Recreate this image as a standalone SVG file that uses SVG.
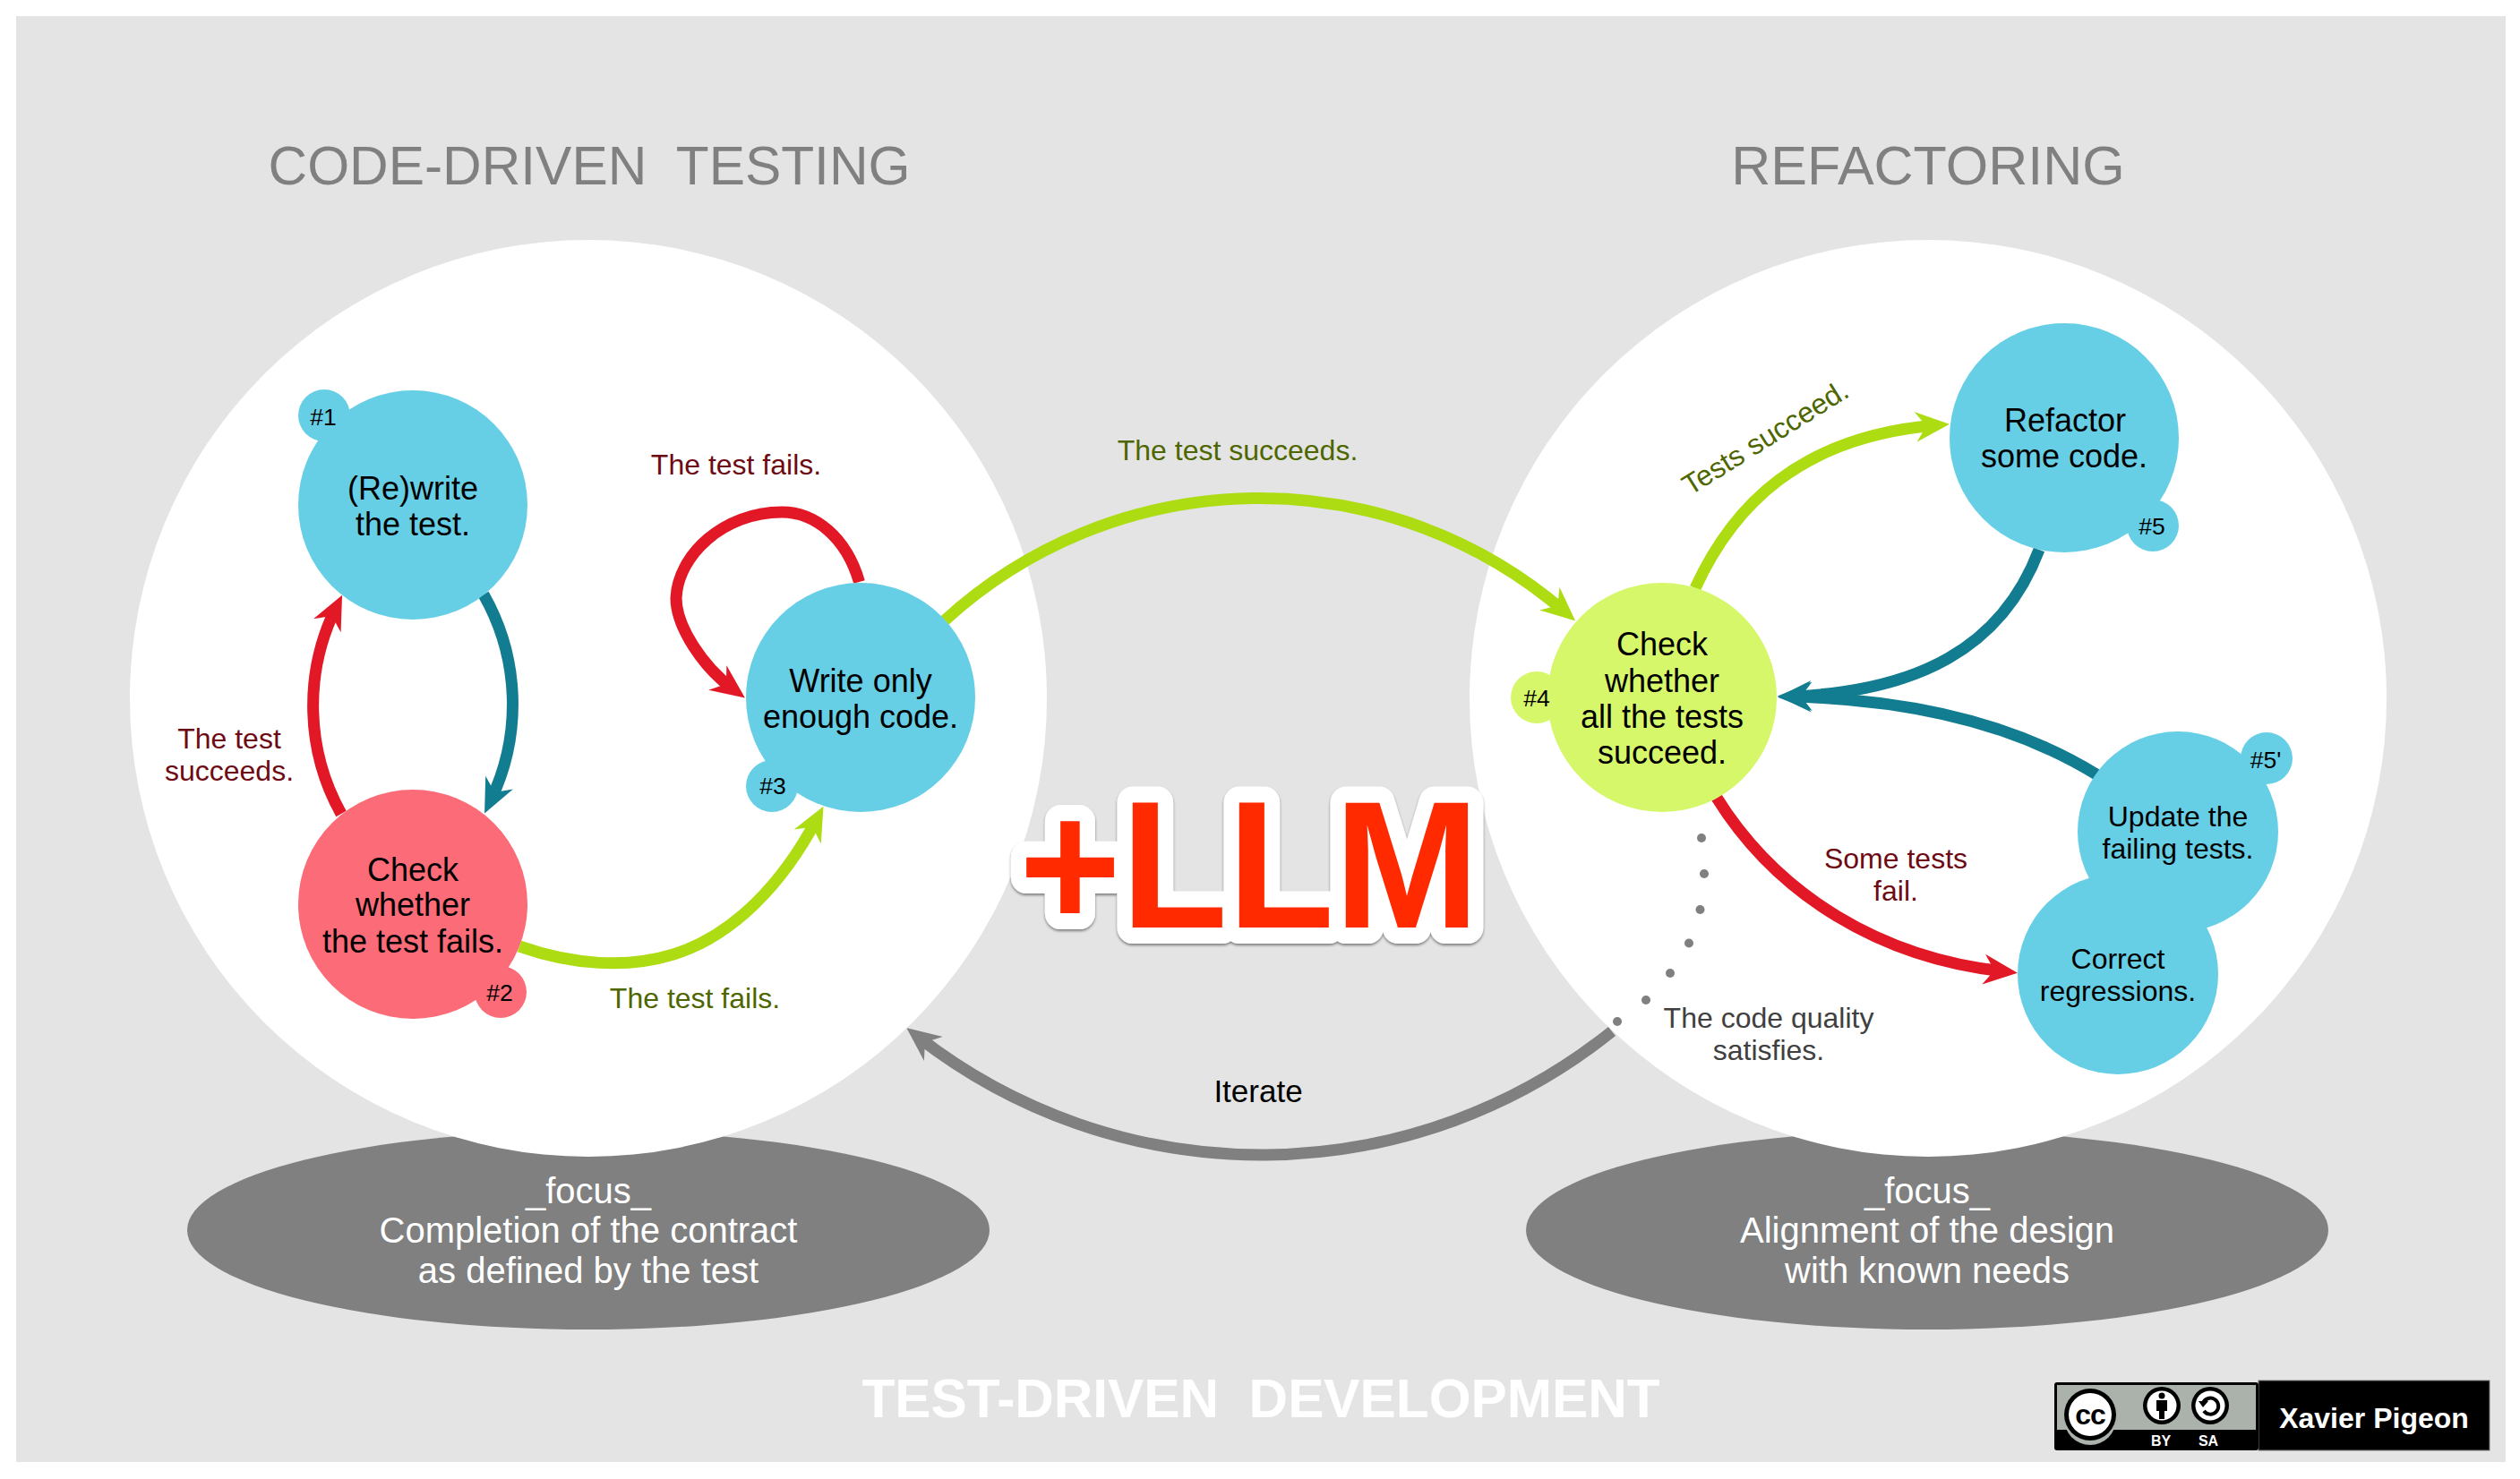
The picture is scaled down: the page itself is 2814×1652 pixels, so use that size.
<svg xmlns="http://www.w3.org/2000/svg" width="2814" height="1652" viewBox="0 0 2814 1652">
<style>
text{font-family:"Liberation Sans",Arial,sans-serif;text-anchor:middle;white-space:pre}
.n{font-size:36px;fill:#000}
.s{font-size:32px;fill:#000}
.b{font-size:26.5px;fill:#000}
.lr{font-size:32px;fill:#6e0a14}
.lg{font-size:32px;fill:#4e6600}
.lk{font-size:32px;fill:#404040}
.t{font-size:60.4px;fill:#808080}
.f{font-size:40px;fill:#fff}
.blue{fill:#66cfe6}.pink{fill:#fb6b78}.lime{fill:#d7f76b}
.c{fill:none;stroke-width:13}
.cr{stroke:#e21826}.cg{stroke:#addc12}.ct{stroke:#127c90}.cy{stroke:#808080}
</style>
<defs>
<marker id="ar" markerUnits="userSpaceOnUse" markerWidth="42" markerHeight="40" viewBox="0 -20 42 40" refX="22" refY="0" orient="auto"><path d="M38,0L0,-17L12,0L0,17Z" fill="#e21826"/></marker>
<marker id="ag" markerUnits="userSpaceOnUse" markerWidth="42" markerHeight="40" viewBox="0 -20 42 40" refX="22" refY="0" orient="auto"><path d="M38,0L0,-17L12,0L0,17Z" fill="#addc12"/></marker>
<marker id="at" markerUnits="userSpaceOnUse" markerWidth="42" markerHeight="40" viewBox="0 -20 42 40" refX="22" refY="0" orient="auto"><path d="M38,0L0,-17L12,0L0,17Z" fill="#127c90"/></marker>
<marker id="ay" markerUnits="userSpaceOnUse" markerWidth="42" markerHeight="40" viewBox="0 -20 42 40" refX="22" refY="0" orient="auto"><path d="M38,0L0,-17L12,0L0,17Z" fill="#808080"/></marker>
<filter id="sh" x="-5%" y="-5%" width="110%" height="115%"><feDropShadow dx="0" dy="2" stdDeviation="1.5" flood-color="#000" flood-opacity=".45"/></filter>
</defs>
<rect x="0" y="0" width="2814" height="1652" fill="#fff"/>
<rect x="18" y="18" width="2780" height="1615" fill="#e4e4e4"/>
<g id="focus-left"><ellipse cx="657" cy="1374" rx="448" ry="111" fill="#808080"/></g>
<g id="focus-right"><ellipse cx="2152" cy="1374" rx="448" ry="111" fill="#808080"/></g>
<g id="circle-left"><circle cx="657" cy="780" r="512" fill="#fff"/></g>
<g id="circle-right"><circle cx="2153" cy="780" r="512" fill="#fff"/></g>
<text class="t" x="658" y="206">CODE-DRIVEN  TESTING</text>
<text class="t" x="2153" y="206" style="font-size:61px">REFACTORING</text>
<text class="f" x="657" y="1344">_focus_</text>
<text class="f" x="657" y="1388">Completion of the contract</text>
<text class="f" x="657" y="1433">as defined by the test</text>
<text class="f" x="2152" y="1344">_focus_</text>
<text class="f" x="2152" y="1388">Alignment of the design</text>
<text class="f" x="2152" y="1433">with known needs</text>
<text x="1408" y="1583" style="font-size:60.3px;font-weight:bold;fill:#fff">TEST-DRIVEN  DEVELOPMENT</text>
<g id="connectors">
<path class="c ct" marker-end="url(#at)" d="M540,664A248,248 0 0 1 548,894"/>
<path class="c cr" marker-end="url(#ar)" d="M381,909A248,248 0 0 1 375,679"/>
<path class="c cr" marker-end="url(#ar)" d="M959.5,650C945,600 910,572 873,572C808,572 757,620 755,668C755,700 785,745 819,770"/>
<path class="c cg" marker-end="url(#ag)" d="M580,1057C640,1078 700,1082 752,1066C820,1045 875,985 912,915"/>
<path class="c cg" marker-end="url(#ag)" d="M1055,693A521,521 0 0 1 1747,683"/>
<path class="c cg" marker-end="url(#ag)" d="M1893,657C1935,565 2010,488 2161,475"/>
<path class="c ct" marker-end="url(#at)" d="M2277,614C2235,725 2140,772 2001,778"/>
<path class="c ct" marker-end="url(#at)" d="M2341,865C2260,815 2150,782 2001,778"/>
<path class="c cr" marker-end="url(#ar)" d="M1917,891C1985,1000 2100,1070 2237,1085"/>
<path class="c cy" marker-end="url(#ay)" d="M1800,1152A624,624 0 0 1 1025,1158"/>
<g fill="#808080"><circle cx="1900" cy="936" r="5"/><circle cx="1903" cy="976" r="5"/><circle cx="1898.5" cy="1016" r="5"/><circle cx="1886" cy="1053.5" r="5"/><circle cx="1865" cy="1087" r="5"/><circle cx="1838" cy="1117" r="5"/><circle cx="1806" cy="1141" r="5"/></g>
</g>
<g id="node1"><circle class="blue" cx="461" cy="564" r="128"/><circle class="blue" cx="362" cy="464" r="29"/>
<text class="b" x="361" y="475">#1</text><text class="n" x="461" y="558">(Re)write</text><text class="n" x="461" y="598">the test.</text></g>
<g id="node2"><circle class="pink" cx="461" cy="1010" r="128"/><circle class="pink" cx="559" cy="1108" r="29"/>
<text class="b" x="558" y="1118">#2</text><text class="n" x="461" y="984">Check</text><text class="n" x="461" y="1023">whether</text><text class="n" x="461" y="1064">the test fails.</text></g>
<g id="node3"><circle class="blue" cx="961" cy="779" r="128"/><circle class="blue" cx="862" cy="878" r="29"/>
<text class="b" x="863" y="887">#3</text><text class="n" x="961" y="773">Write only</text><text class="n" x="961" y="813">enough code.</text></g>
<g id="node4"><circle class="lime" cx="1856" cy="779" r="128"/><circle class="lime" cx="1716" cy="779" r="29"/>
<text class="b" x="1716" y="789">#4</text><text class="n" x="1856" y="732">Check</text><text class="n" x="1856" y="773">whether</text><text class="n" x="1856" y="813">all the tests</text><text class="n" x="1856" y="853">succeed.</text></g>
<g id="node5"><circle class="blue" cx="2305" cy="489" r="128"/><circle class="blue" cx="2404" cy="587" r="29"/>
<text class="b" x="2403" y="597">#5</text><text class="n" x="2306" y="482">Refactor</text><text class="n" x="2305" y="522">some code.</text></g>
<g id="node5b"><circle class="blue" cx="2432" cy="929" r="112"/><circle class="blue" cx="2531" cy="847" r="29"/>
<text class="b" x="2530" y="858">#5'</text><text class="s" x="2432" y="923">Update the</text><text class="s" x="2432" y="959">failing tests.</text></g>
<g id="node6"><circle class="blue" cx="2365" cy="1088" r="112"/>
<text class="s" x="2365" y="1082">Correct</text><text class="s" x="2365" y="1118">regressions.</text></g>
<g id="labels">
<text class="lr" x="822" y="530">The test fails.</text>
<text class="lr" x="256" y="836">The test</text><text class="lr" x="256" y="872">succeeds.</text>
<text class="lg" x="776" y="1126">The test fails.</text>
<text class="lg" x="1382" y="514">The test succeeds.</text>
<text class="lg" x="0" y="0" transform="translate(1977,498) rotate(-32)">Tests succeed.</text>
<text class="lr" x="2117" y="970">Some tests</text><text class="lr" x="2117" y="1006">fail.</text>
<text class="lk" x="1975" y="1148">The code quality</text><text class="lk" x="1975" y="1184">satisfies.</text>
<text x="1405" y="1231" style="font-size:35px;fill:#000">Iterate</text>
</g>
<g id="llm" transform="translate(1138,1036) scale(.96,1)">
<text x="0" y="0" style="font-size:203px;font-weight:bold;text-anchor:start;fill:#fff;stroke:#fff;stroke-width:36px;stroke-linejoin:round" filter="url(#sh)">+LLM</text>
<text x="0" y="0" style="font-size:203px;font-weight:bold;text-anchor:start;fill:#ff2a00">+LLM</text>
</g>
<g id="license" transform="translate(0,2)">
<rect x="2522" y="1540" width="258" height="78" fill="#000" stroke="#777" stroke-width="1"/>
<text x="2651" y="1593" style="font-size:32px;font-weight:bold;fill:#fff">Xavier Pigeon</text>
<rect x="2294" y="1542" width="228" height="76" rx="3" fill="#000"/>
<path d="M2297,1545H2519V1595H2297Z" fill="#aab2ab"/>
<circle cx="2334" cy="1583" r="29" fill="#aab2ab"/>
<circle cx="2334" cy="1578" r="29" fill="#000"/><circle cx="2334" cy="1578" r="24" fill="#fff"/>
<text x="2334" y="1589" style="font-size:32px;font-weight:bold;fill:#000;letter-spacing:-1px">cc</text>
<circle cx="2414" cy="1568" r="21" fill="#000"/><circle cx="2414" cy="1568" r="16.5" fill="#fff"/>
<circle cx="2414" cy="1557" r="3.5" fill="#000"/><path d="M2408,1562H2420V1574H2417V1583H2411V1574H2408Z" fill="#000"/>
<circle cx="2468" cy="1568" r="21" fill="#000"/><circle cx="2468" cy="1568" r="16.5" fill="#fff"/>
<path d="M2460,1565A9,9 0 1 1 2461,1574" fill="none" stroke="#000" stroke-width="4"/><path d="M2455,1563H2466L2460,1570Z" fill="#000"/>
<text x="2413" y="1613" style="font-size:16px;font-weight:bold;fill:#fff">BY</text>
<text x="2466" y="1613" style="font-size:16px;font-weight:bold;fill:#fff">SA</text>
</g>
</svg>
